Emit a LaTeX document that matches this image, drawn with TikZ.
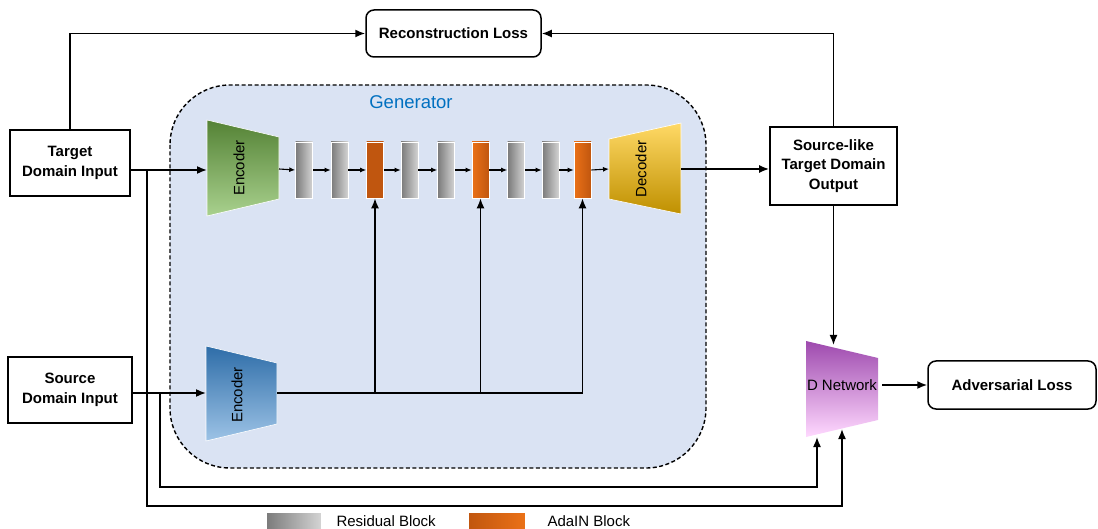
\documentclass[tikz,border=0pt]{standalone}
\usepackage{fontspec}
\setmainfont{Liberation Sans}
\usetikzlibrary{arrows.meta,calc}

\definecolor{genfill}{HTML}{DAE3F3}
\definecolor{genblue}{HTML}{0070C0}
\definecolor{greendark}{HTML}{548235}
\definecolor{greenmid}{HTML}{70AD47}
\definecolor{greenlight}{HTML}{A9D18E}
\definecolor{bluedark}{HTML}{2E6DA8}
\definecolor{bluemid}{HTML}{5B9BD5}
\definecolor{bluelight}{HTML}{9DC3E6}
\definecolor{yeltop}{HTML}{FFD966}
\definecolor{yelmid}{HTML}{FFC000}
\definecolor{yelbot}{HTML}{BF9000}
\definecolor{purtop}{HTML}{9E4AAE}
\definecolor{purmid}{HTML}{FF99FF}
\definecolor{purbot}{HTML}{FFD9FF}
\definecolor{resdark}{HTML}{7A7A7A}
\definecolor{reslight}{HTML}{D4D4D4}
\definecolor{adabright}{HTML}{EB7117}
\definecolor{adadark}{HTML}{C0560F}

\tikzset{
  txt/.style={font=\fontsize{15}{19.5}\selectfont},
  box/.style={draw, line width=1.8pt, align=center, inner sep=0pt, font=\fontsize{15}{19.5}\selectfont\bfseries},
  lossbox/.style={box, line width=1.5pt, rounded corners=8pt},
  arr/.style={-{Latex[length=10pt,width=8pt]}, line width=1.6pt},
  link/.style={line width=1.6pt},
  small/.style={-{Latex[length=6pt,width=5pt]}, line width=1.1pt},
  blk/.style={draw=white, line width=0.6pt, inner sep=0pt, minimum width=17pt, minimum height=56pt},
  res/.style={blk, left color=resdark, right color=reslight},
  ada/.style={blk, left color=adabright, right color=adadark},
  adamid/.style={blk, top color=adadark, middle color=adabright, bottom color=adadark},
}

\begin{document}
\begin{tikzpicture}[x=1pt,y=-1pt]
\useasboundingbox (0,0) rectangle (1098,529);

% generator area
\draw[line width=1.4pt, fill=genfill, rounded corners=60pt, dash pattern=on 4pt off 2.5pt] (170,85) rectangle (706,468);
\node[text=genblue, font=\fontsize{18.5}{20}\selectfont] (gen) at (411,102) {Generator};

% boxes
\node[box, minimum width=120pt, minimum height=66pt] (tgt) at (70,163) {Target\\Domain Input};
\node[box, minimum width=124pt, minimum height=66pt] (src) at (70,390) {Source\\Domain Input};
\node[lossbox, minimum width=175pt, minimum height=47pt] (rec) at (453.5,33.5) {Reconstruction Loss};
\node[box, minimum width=127pt, minimum height=78pt] (out) at (833.5,166) {Source-like\\Target Domain\\Output};
\node[lossbox, minimum width=168pt, minimum height=48pt] (adv) at (1012,385) {Adversarial Loss};

% encoders, decoder, discriminator
\shade[draw=white, line width=0.6pt, top color=greendark, middle color=greenmid, bottom color=greenlight]
  (207,120) -- (279,137) -- (279,199) -- (207,216) -- cycle;
\node[txt, rotate=90] (encT) at (239,168) {Encoder};
\coordinate (encT-w) at (207,170);
\coordinate (encT-e) at (279,169);

\shade[draw=white, line width=0.6pt, top color=bluedark, middle color=bluemid, bottom color=bluelight]
  (206,346) -- (277,363) -- (277,424) -- (206,441) -- cycle;
\node[txt, rotate=90] (encS) at (237,395) {Encoder};
\coordinate (encS-w) at (206,393);
\coordinate (encS-e) at (277,393);

\shade[draw=white, line width=0.6pt, top color=yeltop, middle color=yelmid, bottom color=yelbot]
  (609,139) -- (681,123) -- (681,214) -- (609,199) -- cycle;
\node[txt, rotate=90] (dec) at (641,169) {Decoder};
\coordinate (dec-w) at (609,169);
\coordinate (dec-e) at (681,169);

\shade[top color=purtop, middle color=purmid, bottom color=purbot]
  (806,341) -- (878,358) -- (878,420) -- (806,437) -- cycle;
\node[txt, inner sep=0pt] (dnet) at (842,385) {D Network};
\coordinate (dnet-n) at (833,345);
\coordinate (dnet-s1) at (817,437);
\coordinate (dnet-s2) at (842,429);

% residual and AdaIN blocks
\foreach \x/\s [count=\i] in {304/res, 339.5/res, 375/adamid, 409.5/res, 446/res, 480.5/ada, 516/res, 550.5/res, 582.5/ada}
  \node[\s] (b\i) at (\x,170) {};

\draw[small] (encT-e) -- (b1.west);
\foreach \i/\j in {1/2,2/3,3/4,4/5,5/6,6/7,7/8,8/9}
  \draw[small] (b\i.east) -- (b\j.west);
\draw[small] (b9.east) -- (dec-w);

% connectors
\draw[arr] (tgt.east |- encT-w) -- (encT-w);
\draw[arr] (src.east |- encS-w) -- (encS-w);
\draw[arr] (tgt.north) |- (rec.west);
\draw[arr] (out.north) |- (rec.east);
\draw[arr] (dec-e) -- (out.west |- dec-e);
\draw[arr] (out.south) -- (out.south |- dnet-n);
\draw[arr] ($(dnet.east)+(5,0)$) -- (adv.west);

\draw[link] (encS-e) -- (b9.south |- encS-e);
\foreach \b in {b3,b6,b9}
  \draw[arr] (\b.south |- encS-e) -- (\b.south);

\draw[arr] (147,170) -- (147,506) -| (dnet-s2);
\draw[arr] (160,393) -- (160,487) -| (dnet-s1);

% legend
\node[draw=white, inner sep=0pt, minimum width=55pt, minimum height=17pt, left color=resdark, right color=reslight] (legres) at (293.5,520.5) {};
\node[txt, anchor=west] (legrestxt) at (333,521) {Residual Block};
\node[draw=white, inner sep=0pt, minimum width=57pt, minimum height=17pt, left color=adadark, right color=adabright] (legada) at (496.5,520.5) {};
\node[txt, anchor=west] (legadatxt) at (544,521) {AdaIN Block};
\end{tikzpicture}
\end{document}
